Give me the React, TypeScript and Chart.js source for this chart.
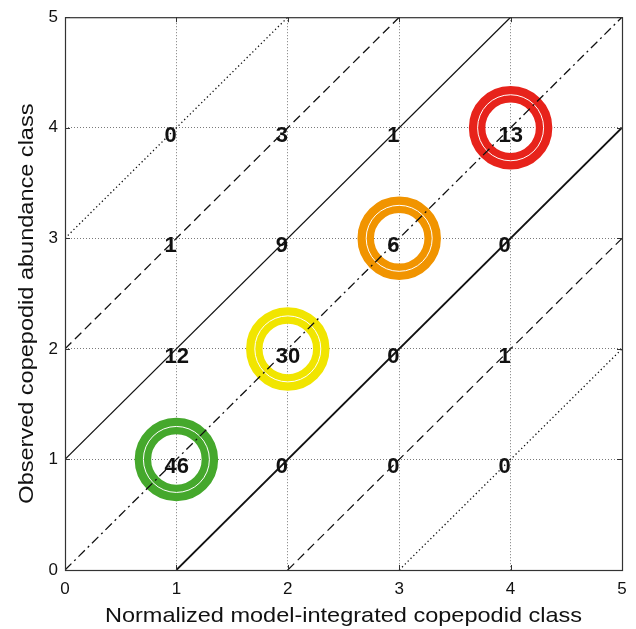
import React, { useEffect, useRef } from "react";
import { Chart, registerables } from "chart.js";

Chart.register(...registerables);

// ---- Data ----
const axisTicks = [0, 1, 2, 3, 4, 5];
const modelClasses = [1, 2, 3, 4]; // x positions of count columns
const observedClasses = [4, 3, 2, 1]; // y positions of count rows
const countsObs4 = [0, 3, 1, 13];
const countsObs3 = [1, 9, 6, 0];
const countsObs2 = [12, 30, 0, 1];
const countsObs1 = [46, 0, 0, 0];
const countRows = [countsObs4, countsObs3, countsObs2, countsObs1];
const matchClasses = [1, 2, 3, 4];
const matchColors = ["#45a82c", "#f1e500", "#f19400", "#e7231b"];
const diagonalOffsets = [3, 2, 1, 0, -1, -2, -3];
const xTitle = "Normalized model-integrated copepodid class";
const yTitle = "Observed copepodid abundance class";

// ---- Styles ----
const diagStyle: Record<number, { dash: number[]; width: number }> = {
  3: { dash: [1.3, 2.7], width: 1.3 },
  2: { dash: [9, 5], width: 1.3 },
  1: { dash: [], width: 1.2 },
  0: { dash: [9, 4, 2, 4], width: 1.3 },
  "-1": { dash: [], width: 1.8 },
  "-2": { dash: [9, 5], width: 1.2 },
  "-3": { dash: [1.3, 2.7], width: 1.3 },
} as any;

const FONT = '"Liberation Sans", Arial, Helvetica, sans-serif';
const TITLE_STRETCH = 1.12;

const overlayPlugin = {
  id: "overlay",
  afterDatasetsDraw(chart: any) {
    const { ctx, scales } = chart;
    const xs = scales.x;
    const ys = scales.y;
    ctx.save();
    ctx.font = `bold 22px ${FONT}`;
    ctx.fillStyle = "#111";
    ctx.textAlign = "left";
    ctx.textBaseline = "alphabetic";
    countRows.forEach((row, ri) => {
      row.forEach((v, ci) => {
        const px = xs.getPixelForValue(modelClasses[ci]);
        const py = ys.getPixelForValue(observedClasses[ri]);
        ctx.fillText(String(v), px - 12, py + 14);
      });
    });
    ctx.restore();
  },
  afterDraw(chart: any) {
    const { ctx, chartArea: a, scales } = chart;
    const xs = scales.x;
    const ys = scales.y;
    ctx.save();
    // inward ticks
    ctx.strokeStyle = "#333";
    ctx.lineWidth = 1;
    ctx.beginPath();
    axisTicks.forEach((t) => {
      const px = Math.round(xs.getPixelForValue(t)) + 0.5;
      const py = Math.round(ys.getPixelForValue(t)) + 0.5;
      ctx.moveTo(px, a.bottom);
      ctx.lineTo(px, a.bottom - 5);
      ctx.moveTo(px, a.top);
      ctx.lineTo(px, a.top + 5);
      ctx.moveTo(a.left, py);
      ctx.lineTo(a.left + 5, py);
      ctx.moveTo(a.right, py);
      ctx.lineTo(a.right - 5, py);
    });
    ctx.stroke();
    // box
    ctx.strokeStyle = "#333";
    ctx.lineWidth = 1.2;
    ctx.strokeRect(a.left + 0.5, a.top + 0.5, a.right - a.left, a.bottom - a.top);
    // titles
    ctx.fillStyle = "#111";
    ctx.font = `21px ${FONT}`;
    ctx.textAlign = "center";
    ctx.textBaseline = "alphabetic";
    ctx.save();
    ctx.translate((a.left + a.right) / 2, a.bottom + 52);
    ctx.scale(TITLE_STRETCH, 1);
    ctx.fillText(xTitle, 0, 0);
    ctx.restore();
    ctx.save();
    ctx.translate(33, (a.top + a.bottom) / 2 + 10);
    ctx.rotate(-Math.PI / 2);
    ctx.scale(TITLE_STRETCH, 1);
    ctx.fillText(yTitle, 0, 0);
    ctx.restore();
    ctx.restore();
  },
};

export default function App() {
  const ref = useRef<HTMLCanvasElement>(null);

  useEffect(() => {
    document.body.style.margin = "0";
    const canvas = ref.current!;
    const lineSets = diagonalOffsets.map((k) => {
      const s = diagStyle[k];
      return {
        type: "scatter" as const,
        data: [
          { x: Math.max(0, -k), y: Math.max(0, k) },
          { x: Math.min(5, 5 - k), y: Math.min(5, 5 + k) },
        ],
        showLine: true,
        borderColor: "#111",
        borderWidth: s.width,
        borderDash: s.dash,
        pointRadius: 0,
        order: 1,
      };
    });
    const ringSets = [
      {
        type: "scatter" as const,
        data: matchClasses.map((c) => ({ x: c, y: c })),
        pointRadius: 33.5,
        pointBorderWidth: 16.5,
        pointBackgroundColor: "rgba(0,0,0,0)",
        pointBorderColor: matchColors,
        borderColor: matchColors,
        backgroundColor: "rgba(0,0,0,0)",
        order: 3,
      },
      {
        type: "scatter" as const,
        data: matchClasses.map((c) => ({ x: c, y: c })),
        pointRadius: 33,
        pointBorderWidth: 1,
        pointBackgroundColor: "rgba(0,0,0,0)",
        pointBorderColor: "#ffffff",
        backgroundColor: "rgba(0,0,0,0)",
        order: 2,
      },
    ];

    const tickFont = { family: FONT, size: 17 };
    const gridColor = (c: any) =>
      c.tick && (c.tick.value === 0 || c.tick.value === 5) ? "rgba(0,0,0,0)" : "#7a7a7a";

    const chart = new Chart(canvas, {
      type: "scatter",
      data: { datasets: [...lineSets, ...ringSets] as any },
      options: {
        animation: false,
        responsive: false,
        devicePixelRatio: 1,
        layout: { autoPadding: false, padding: { top: 14, right: 14, left: 0, bottom: 0 } },
        plugins: { legend: { display: false }, tooltip: { enabled: false } },
        events: [],
        scales: {
          x: {
            type: "linear",
            min: 0,
            max: 5,
            afterFit: (s: any) => {
              s.height = 59;
            },
            afterBuildTicks: (s: any) => {
              s.ticks = axisTicks.map((v) => ({ value: v }));
            },
            ticks: { font: tickFont, color: "#111", padding: 9, maxRotation: 0 },
            grid: { color: gridColor, lineWidth: 1, drawTicks: false },
            border: { display: false, dash: [1, 2] },
          },
          y: {
            type: "linear",
            min: 0,
            max: 5,
            afterFit: (s: any) => {
              s.width = 65;
            },
            afterBuildTicks: (s: any) => {
              s.ticks = axisTicks.map((v) => ({ value: v }));
            },
            ticks: { font: tickFont, color: "#111", padding: 7 },
            grid: { color: gridColor, lineWidth: 1, drawTicks: false },
            border: { display: false, dash: [1, 2] },
          },
        },
      },
      plugins: [overlayPlugin],
    });
    return () => chart.destroy();
  }, []);

  return (
    <div style={{ position: "absolute", left: 0, top: 0, width: 636, height: 629, background: "#fff" }}>
      <canvas ref={ref} width={636} height={629} style={{ width: 636, height: 629, display: "block" }} />
    </div>
  );
}
